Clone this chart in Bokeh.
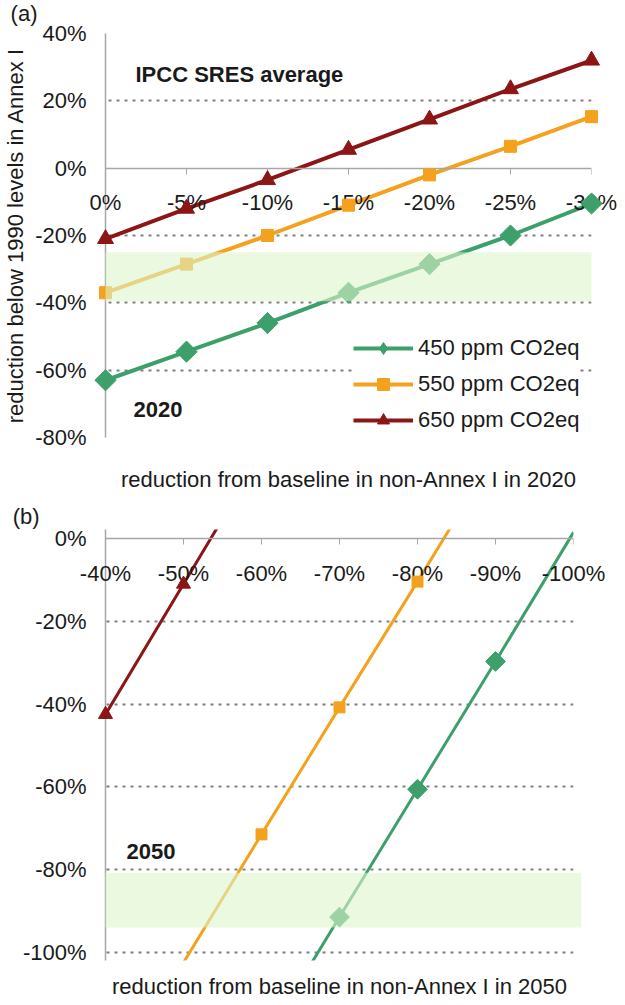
import math

from bokeh.core.properties import value
from bokeh.embed import file_html
from bokeh.layouts import column
from bokeh.models import (FixedTicker, Label, Legend, LegendItem, LinearAxis,
                          PrintfTickFormatter, Range1d)
from bokeh.plotting import figure
from bokeh.resources import INLINE

FONT = "Liberation Sans"
TEXT = "#1a1a1a"
FS = "22px"

# (a) Annex I reductions below 1990 in 2020, vs non-Annex I reduction from baseline
x_2020 = [0, -5, -10, -15, -20, -25, -30]
ppm450_2020 = [-63, -54.5, -46, -37, -28.5, -20, -10.5]
ppm550_2020 = [-37, -28.5, -20, -11, -2, 6.5, 15.3]
ppm650_2020 = [-21, -12, -3.5, 5.5, 14.5, 23.5, 32]
band_2020 = [-25, -39.5]
xticks_2020 = [0, -5, -10, -15, -20, -25, -30]
yticks_2020 = [40, 20, 0, -20, -40, -60, -80]

# (b) the same for 2050 (lines run past the axis limits)
x450_2050 = [-60, -70, -80, -90, -100]
ppm450_2050 = [-122.5, -91.5, -60.6, -29.7, 1.5]
x550_2050 = [-50, -60, -70, -80, -90]
ppm550_2050 = [-102.5, -71.5, -40.8, -10.4, 20.5]
x650_2050 = [-40, -50, -60]
ppm650_2050 = [-42.5, -11, 20.5]
band_2050 = [-80.8, -94]
xticks_2050 = [-40, -50, -60, -70, -80, -90, -100]
yticks_2050 = [0, -20, -40, -60, -80, -100]

labels = ["450 ppm CO2eq", "550 ppm CO2eq", "650 ppm CO2eq"]
colors = ["#3d9f6a", "#f4a11e", "#8c1515"]
markers = ["square", "square", "triangle"]
legend_markers = ["diamond", "square", "triangle"]
angles = [math.pi / 4, 0, 0]


def make_panel(fw, fh, xr, yr, borders, xticks, yticks, xlabel, title_standoff, ylabel=None):
    p = figure(frame_width=fw, frame_height=fh, x_range=Range1d(*xr), y_range=Range1d(*yr),
               output_backend="svg", toolbar_location=None,
               min_border_left=borders[0], min_border_right=borders[1],
               min_border_top=borders[2], min_border_bottom=borders[3])
    p.outline_line_color = None
    p.background_fill_color = "white"
    p.border_fill_color = "white"

    # x axis sits on the 0% line; its labels are drawn as text below so they are not clipped
    p.xaxis.fixed_location = 0
    p.xaxis.ticker = FixedTicker(ticks=xticks)
    p.xaxis.major_label_text_alpha = 0
    p.xaxis.major_tick_out = 6
    p.xaxis.major_tick_in = 0
    p.xaxis.minor_tick_line_color = None
    p.xaxis.axis_line_color = "#a6a6a6"
    p.xaxis.axis_line_width = 1.5
    p.xaxis.major_tick_line_color = "#a6a6a6"
    p.text(x=xticks, y=[0] * len(xticks), text=["%d%%" % t for t in xticks],
           text_font=value(FONT), text_font_size=FS, text_color=TEXT,
           text_align="center", text_baseline="top", y_offset=22, level="overlay")

    p.yaxis.ticker = FixedTicker(ticks=yticks)
    p.yaxis.formatter = PrintfTickFormatter(format="%d%%")
    p.yaxis.major_tick_line_color = None
    p.yaxis.minor_tick_line_color = None
    p.yaxis.major_label_standoff = 13
    p.yaxis.axis_line_color = "#a6a6a6"
    p.yaxis.axis_line_width = 1.5
    p.yaxis.major_label_text_font = FONT
    p.yaxis.major_label_text_font_size = FS
    p.yaxis.major_label_text_color = TEXT
    if ylabel:
        p.yaxis.axis_label = ylabel
        p.yaxis.axis_label_text_font = FONT
        p.yaxis.axis_label_text_font_size = FS
        p.yaxis.axis_label_text_font_style = "normal"
        p.yaxis.axis_label_text_color = TEXT
        p.yaxis.axis_label_standoff = 4

    # second bottom axis carrying only the title below the frame
    title_axis = LinearAxis(ticker=FixedTicker(ticks=[]), axis_line_color=None,
                            major_tick_line_color=None, minor_tick_line_color=None,
                            axis_label=xlabel, axis_label_text_font=FONT,
                            axis_label_text_font_size=FS, axis_label_text_font_style="normal",
                            axis_label_text_color=TEXT, axis_label_standoff=title_standoff)
    p.add_layout(title_axis, "below")

    p.xgrid.visible = False
    p.ygrid.ticker = FixedTicker(ticks=[t for t in yticks if t != 0])
    p.ygrid.grid_line_color = "#808080"
    p.ygrid.grid_line_width = 2
    p.ygrid.grid_line_dash = "3 5"
    return p


def add_series(p, xs, ys, i, lw, size, ylim):
    line = p.line(xs, ys, line_color=colors[i], line_width=lw)
    mx = [x for x, y in zip(xs, ys) if ylim[0] <= y <= ylim[1]]
    my = [y for y in ys if ylim[0] <= y <= ylim[1]]
    p.scatter(mx, my, marker=markers[i], angle=angles[i], size=size[i],
              fill_color=colors[i], line_color=colors[i], level="overlay")
    return line


def add_text(p, x, y, text, style="normal"):
    p.add_layout(Label(x=x, y=y, text=text, text_font=FONT, text_font_size=FS,
                       text_font_style=style, text_color=TEXT, text_baseline="middle"))


def add_tag(p, x, y, text):
    p.text(x=[x], y=[y], text=[text], text_font=value(FONT), text_font_size=FS,
           text_color=TEXT, text_baseline="middle", level="overlay")


# ---- panel (a)
pa = make_panel(486, 404, (0, -30), (-80, 40), (97, 26, 33, 60), xticks_2020, yticks_2020,
                "reduction from baseline in non-Annex I in 2020", 29,
                ylabel="reduction below 1990 levels in Annex I")
items = []
for i, ys in enumerate([ppm450_2020, ppm550_2020, ppm650_2020]):
    line = add_series(pa, x_2020, ys, i, 4, [15, 12, 16], (-80, 40))
    key = pa.scatter([float("nan")], [float("nan")], marker=legend_markers[i],
                     size=[15, 11, 14][i], fill_color=colors[i], line_color=colors[i])
    items.append(LegendItem(label=labels[i], renderers=[line, key]))
pa.quad(left=0, right=-30, top=band_2020[0], bottom=band_2020[1],
        fill_color="#dcf5cb", fill_alpha=0.6, line_color=None, level="overlay")

legend = Legend(items=items, location=(248, 2), margin=0, padding=4, spacing=6,
                glyph_width=60, glyph_height=30, label_height=30, label_standoff=5,
                label_text_font=FONT, label_text_font_size=FS, label_text_color=TEXT,
                background_fill_color="white", background_fill_alpha=1, border_line_color=None)
pa.add_layout(legend)

add_tag(pa, 5.86, 46, "(a)")
add_text(pa, -1.85, 27.7, "IPCC SRES average", style="bold")
add_text(pa, -1.73, -71.7, "2020", style="bold")

# ---- panel (b)
pb = make_panel(468, 431, (-40, -100), (-102, 2.2), (97, 44, 32, 37), xticks_2050, yticks_2050,
                "reduction from baseline in non-Annex I in 2050", 13)
for i, (xs, ys) in enumerate([(x450_2050, ppm450_2050), (x550_2050, ppm550_2050),
                              (x650_2050, ppm650_2050)]):
    add_series(pb, xs, ys, i, 3, [14, 11, 14], (-100, 0))
pb.quad(left=-40, right=-101, top=band_2050[0], bottom=band_2050[1],
        fill_color="#dcf5cb", fill_alpha=0.6, line_color=None, level="overlay")

add_tag(pb, -28.1, 5.3, "(b)")
add_text(pb, -42.7, -75.6, "2050", style="bold")

layout = column(pa, pb, spacing=0)
open("out.html", "w").write(file_html(layout, INLINE))
